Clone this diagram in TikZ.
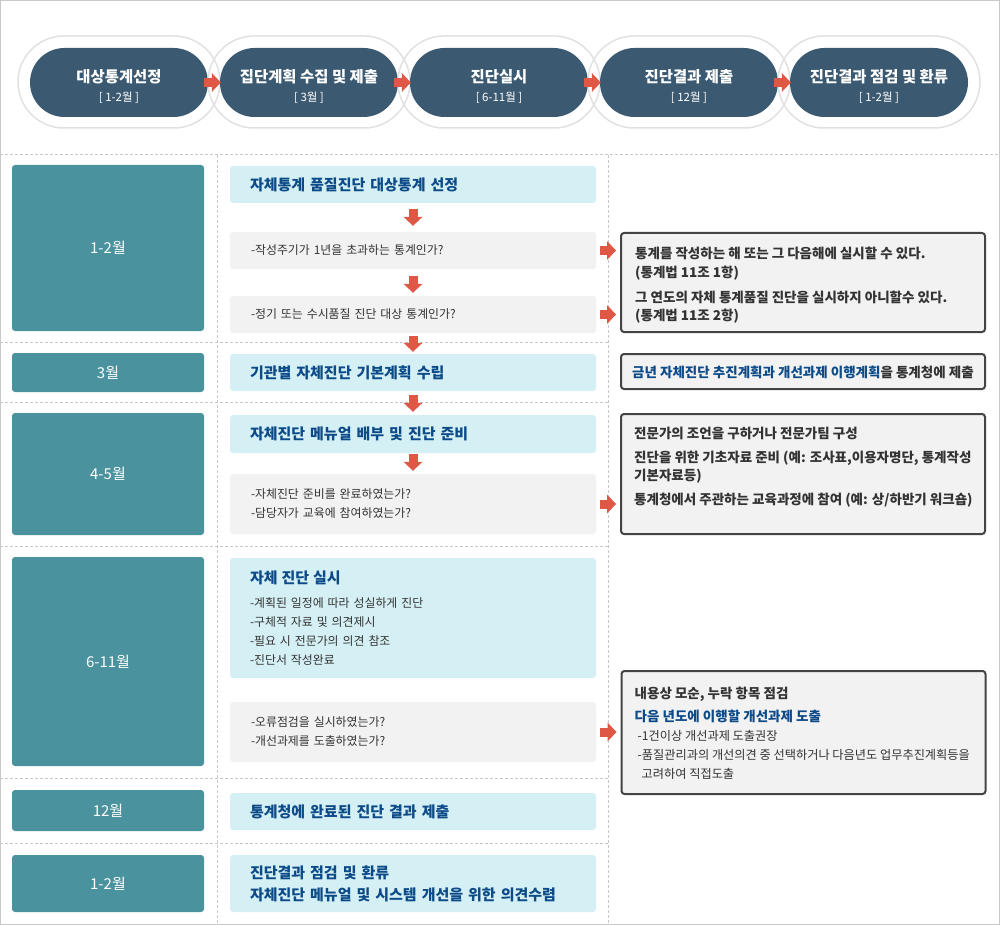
\documentclass[tikz,border=0pt]{standalone}
\usepackage{fontspec}
\setmainfont{Noto Sans CJK KR}
\usetikzlibrary{arrows.meta,calc}
\definecolor{PillClr}{rgb}{0.231,0.353,0.447}
\definecolor{MonthClr}{rgb}{0.290,0.576,0.620}
\definecolor{TitleFill}{rgb}{0.835,0.941,0.957}
\definecolor{AskFill}{rgb}{0.949,0.949,0.949}
\definecolor{TitleClr}{rgb}{0.047,0.290,0.533}
\definecolor{TextClr}{rgb}{0.2,0.2,0.2}
\definecolor{ArrowClr}{rgb}{0.871,0.345,0.271}
\definecolor{GridClr}{rgb}{0.784,0.784,0.784}
\definecolor{RingClr}{rgb}{0.882,0.882,0.882}
\definecolor{NoteLine}{rgb}{0.267,0.267,0.267}

\begin{document}
\begin{tikzpicture}[x=1pt,y=-1pt,
  gridline/.style={GridClr,line width=1pt,dash pattern=on 3pt off 2pt},
  ringbox/.style={draw=RingClr,line width=1.5pt,minimum width=202pt,minimum height=92pt,rounded corners=46pt,inner sep=0pt},
  stagebox/.style={fill=PillClr,minimum width=178pt,minimum height=69pt,rounded corners=34.5pt,inner sep=0pt},
  stagetext/.style={text=white,align=center,inner sep=0pt,font=\fontsize{15.4}{19}\selectfont\bfseries},
  monthbox/.style={fill=MonthClr,text=white,minimum width=192pt,rounded corners=3pt,inner sep=0pt,font=\fontsize{15}{18}\selectfont},
  titlebox/.style={fill=TitleFill,text=TitleClr,text width=326pt,inner xsep=20pt,inner ysep=0pt,align=left,rounded corners=3pt,font=\fontsize{15}{22}\selectfont\bfseries},
  askbox/.style={fill=AskFill,text=TextClr,text width=324pt,inner xsep=21pt,inner ysep=0pt,align=left,rounded corners=3pt,font=\fontsize{11.9}{19}\selectfont},
  notebox/.style={draw=NoteLine,line width=2pt,fill=AskFill,minimum width=364pt,rounded corners=3pt,inner sep=0pt},
  notetext/.style={anchor=north west,text=TextClr,align=left,inner sep=0pt,font=\fontsize{13.5}{18.5}\selectfont\bfseries},
  flowarrow/.style={ArrowClr,line width=9pt,-{Triangle[width=19pt,length=9pt,line width=0pt]}}]
\useasboundingbox (0,0) rectangle (1000,925);
\draw[GridClr,line width=1pt] (0.5,0.5) rectangle (999.5,924.5);

\draw[gridline] (0,155) -- (1000,155);
\foreach \y in {342,402,546,778,843} \draw[gridline] (0,\y) -- (608,\y);
\foreach \x in {217,608} \draw[gridline] (\x,155) -- (\x,925);

\foreach \i/\x/\t/\s in {1/119/대상통계선정/1-2월, 2/309/집단계획 수집 및 제출/3월, 3/499/진단실시/6-11월, 4/689/진단결과 제출/12월, 5/879/진단결과 점검 및 환류/1-2월}{
  \node[ringbox] (r\i) at (\x,82) {};
  \node[stagebox] (p\i) at (\x,82.5) {};
  \node[stagetext] (s\i) at ([yshift=-4pt]p\i.center) {\t\\{\fontsize{11.5}{19}\selectfont\mdseries [\hspace{2.5pt}\s\hspace{2.5pt}]}};
}
\foreach \i/\j in {1/2,2/3,3/4,4/5} \draw[flowarrow,shorten <=-4pt,shorten >=-1pt] (p\i.east) -- (p\j.west);

\foreach \n/\y/\h/\t in {m1/248/166/1-2월, m2/372.5/39/3월, m3/474/122/4-5월, m4/661.5/209/6-11월, m5/810.5/41/12월, m6/883.5/57/1-2월}
  \node[monthbox,minimum height=\h pt] (\n) at (108,\y) {\t};

\node[titlebox,minimum height=37pt] (t1) at (413,184.5) {자체통계 품질진단 대상통계 선정};
\node[askbox,minimum height=37pt] (q1) at (413,250.5) {-작성주기가 1년을 초과하는 통계인가?};
\node[askbox,minimum height=37pt] (q2) at (413,314.5) {-정기 또는 수시품질 진단 대상 통계인가?};
\node[titlebox,minimum height=37pt] (t2) at (413,372.5) {기관별 자체진단 기본계획 수립};
\node[titlebox,minimum height=38pt] (t3) at (413,434) {자체진단 메뉴얼 배부 및 진단 준비};
\node[askbox,minimum height=60pt] (q3) at (413,504) {-자체진단 준비를 완료하였는가?\\-담당자가 교육에 참여하였는가?};
\node[titlebox,minimum height=120pt,text=TextClr,font=\fontsize{11.9}{19}\selectfont] (t4) at (413,618) {{\color{TitleClr}\fontsize{15}{19}\selectfont\bfseries 자체 진단 실시}\\[5pt]-계획된 일정에 따라 성실하게 진단\\-구체적 자료 및 의견제시\\-필요 시 전문가의 의견 참조\\-진단서 작성완료};
\node[askbox,minimum height=60pt] (q4) at (413,732) {-오류점검을 실시하였는가?\\-개선과제를 도출하였는가?};
\node[titlebox,minimum height=37pt] (t5) at (413,811.5) {통계청에 완료된 진단 결과 제출};
\node[titlebox,minimum height=57pt] (t6) at (413,883.5) {진단결과 점검 및 환류\\자체진단 메뉴얼 및 시스템 개선을 위한 의견수렴};

\node[notebox,minimum height=99pt] (rb1) at (803,282.5) {};
\node[notetext] (rb1t) at ([xshift=15pt,yshift=-15pt]rb1.north west) {통계를 작성하는 해 또는 그 다음해에 실시할 수 있다.\\(통계법 11조 1항)\\[6.5pt]그 연도의 자체 통계품질 진단을 실시하지 아니할수 있다.\\(통계법 11조 2항)};
\node[notebox,minimum height=35pt] (rb2) at (803,371.5) {};
\node[notetext] (rb2t) at ([xshift=12pt,yshift=-12.5pt]rb2.north west) {{\color{TitleClr}금년 자체진단 추진계획과 개선과제 이행계획}을 통계청에 제출};
\node[notebox,minimum height=120pt] (rb3) at (803,474) {};
\node[notetext] (rb3t) at ([xshift=14pt,yshift=-13.5pt]rb3.north west) {전문가의 조언을 구하거나 전문가팀 구성\\[5.5pt]진단을 위한 기초자료 준비 (예: 조사표,이용자명단, 통계작성\\기본자료등)\\[5.5pt]통계청에서 주관하는 교육과정에 참여 (예: 상/하반기 워크숍)};
\node[notebox,minimum height=123pt] (rb4) at (803.5,732.5) {};
\node[notetext,font=\fontsize{13.5}{19}\selectfont\bfseries] (rb4t) at ([xshift=14pt,yshift=-16.5pt]rb4.north west) {내용상 모순, 누락 항목 점검\\[4pt]{\color{TitleClr}다음 년도에 이행할 개선과제 도출}\\{\fontsize{12.2}{19}\selectfont\mdseries\hspace{3pt}-1건이상 개선과제 도출권장}\\{\fontsize{12.2}{19}\selectfont\mdseries\hspace{3pt}-품질관리과의 개선의견 중 선택하거나 다음년도 업무추진계획등을}\\{\fontsize{12.2}{19}\selectfont\mdseries\hspace{7pt}고려하여 직접도출}};

\foreach \a/\b/\s/\e in {t1/q1/6/6, q1/q2/7/3, q2/t2/3/2, t2/t3/4/3, t3/q3/1/3}
  \draw[flowarrow,shorten <=\s pt,shorten >=\e pt] (\a) -- (\b);
\foreach \a/\b in {q1/rb1, q2/rb1, q3/rb3, q4/rb4}
  \draw[flowarrow,shorten <=4pt,shorten >=4pt] (\a.east) -- (\a.east -| \b.west);

\end{tikzpicture}
\end{document}
